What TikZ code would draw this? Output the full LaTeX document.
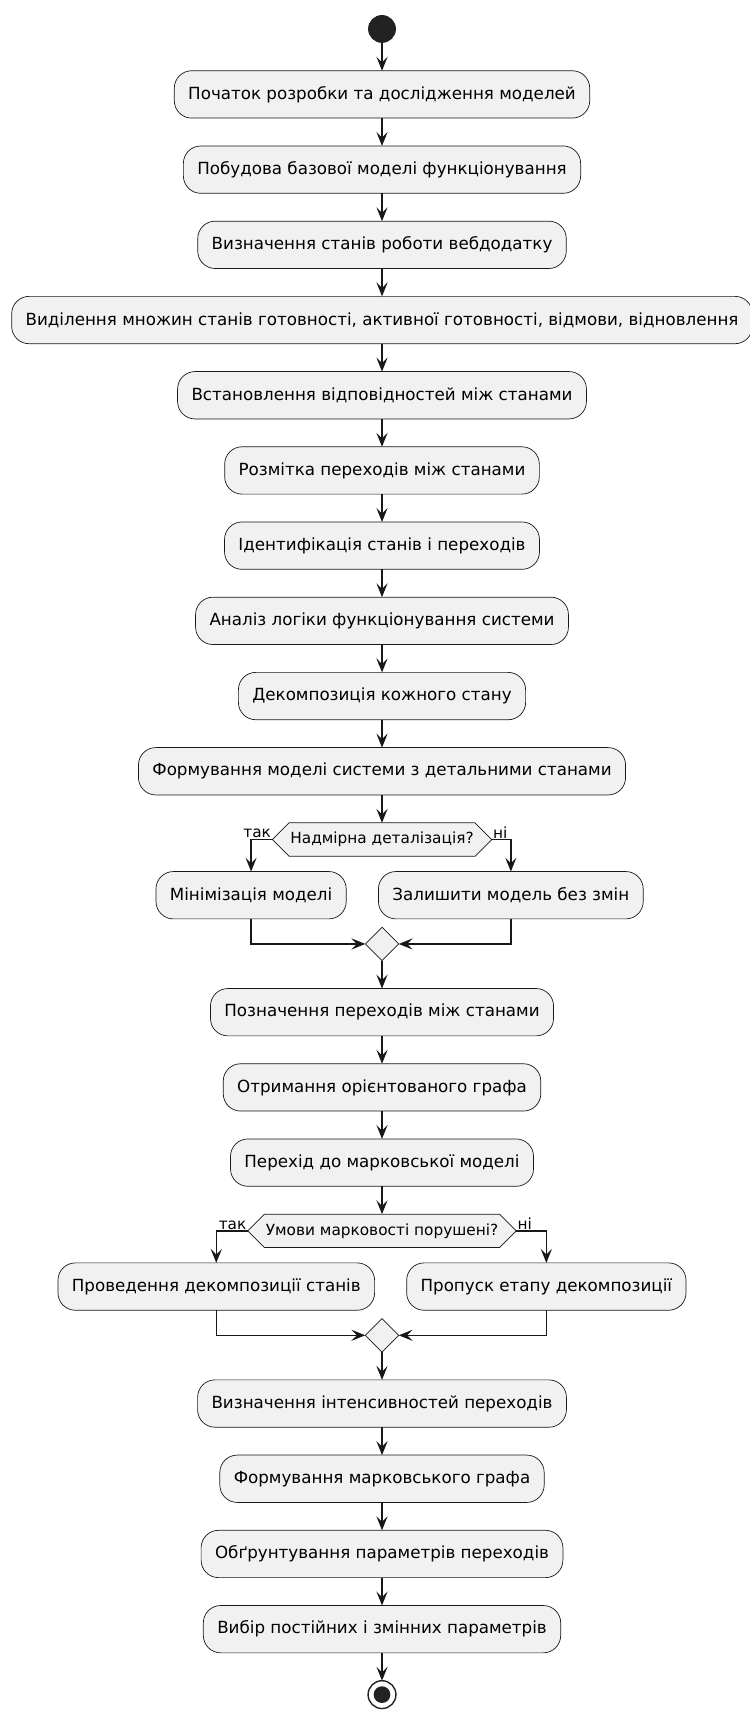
\documentclass[tikz,border=0pt]{standalone}
\usepackage{fontspec}
\setmainfont{DejaVu Sans}
\usetikzlibrary{arrows.meta,positioning,shapes.geometric,shapes.symbols}

\definecolor{actfill}{HTML}{F1F1F1}
\definecolor{actline}{HTML}{181818}
\definecolor{dotcol}{HTML}{222222}

\begin{document}
\begin{tikzpicture}[
    node distance=20pt,
    >={Stealth[length=10pt,width=8pt,inset=4pt]},
    every node/.style={font=\fontsize{12}{14}\selectfont, outer sep=0pt},
    box/.style={
        draw=actline,
        fill=actfill,
        line width=0.5pt,
        rounded corners=12.5pt,
        align=center,
        minimum height=34pt,
        inner xsep=10pt,
        inner ysep=0pt
    },
    cond/.style={
        draw=actline,
        fill=actfill,
        line width=0.5pt,
        signal,
        signal to=east and west,
        signal pointer angle=90,
        minimum height=24pt,
        inner xsep=1pt,
        inner ysep=0pt,
        font=\fontsize{11}{13}\selectfont
    },
    merge/.style={
        draw=actline,
        fill=actfill,
        line width=0.5pt,
        diamond,
        minimum width=24pt,
        minimum height=24pt,
        inner sep=0pt
    },
    startdot/.style={circle, fill=dotcol, minimum size=20pt, inner sep=0pt},
    enddot/.style={circle, draw=dotcol, fill=white, line width=1pt, minimum size=20pt, inner sep=0pt},
    lbl/.style={font=\fontsize{11}{13}\selectfont, inner sep=1pt},
    line/.style={->, line width=1pt, draw=actline}
]
\useasboundingbox (-274.3pt,-1209.2pt) rectangle (264.2pt,20.8pt);

% Start
\node[startdot] (start) at (0,0) {};

% Building the model
\node[box, below=of start] (begin) {Початок розробки та дослідження моделей};
\node[box, below=of begin] (basemod) {Побудова базової моделі функціонування};
\node[box, below=of basemod] (defstates) {Визначення станів роботи вебдодатку};
\node[box, below=of defstates] (sets)
{Виділення множин станів готовності, активної готовності, відмови, відновлення};
\node[box, below=of sets] (corresp) {Встановлення відповідностей між станами};
\node[box, below=of corresp] (markup) {Розмітка переходів між станами};
\node[box, below=of markup] (ident) {Ідентифікація станів і переходів};
\node[box, below=of ident] (logic) {Аналіз логіки функціонування системи};
\node[box, below=of logic] (decomp) {Декомпозиція кожного стану};
\node[box, below=of decomp] (formmod) {Формування моделі системи з детальними станами};

% Detail check
\node[cond, below=of formmod] (detail) {Надмірна деталізація?};
\node[lbl, anchor=south east] (yes1) at (detail.west) {так};
\node[lbl, anchor=south west] (no1) at (detail.east) {ні};
\node[box, below=11pt of detail, xshift=-94pt] (minim) {Мінімізація моделі};
\node[box, below=11pt of detail, xshift=92.5pt] (keep) {Залишити модель без змін};
\node[merge, below=51pt of detail] (merge1) {};

% Oriented graph
\node[box, below=of merge1] (notation) {Позначення переходів між станами};
\node[box, below=of notation] (orgraph) {Отримання орієнтованого графа};
\node[box, below=of orgraph] (markov) {Перехід до марковської моделі};

% Markov check
\node[cond, below=of markov] (markcond) {Умови марковості порушені?};
\node[lbl, anchor=south east] (yes2) at (markcond.west) {так};
\node[lbl, anchor=south west] (no2) at (markcond.east) {ні};
\node[box, below=11pt of markcond, xshift=-119pt] (dodecomp) {Проведення декомпозиції станів};
\node[box, below=11pt of markcond, xshift=118pt] (skipdecomp) {Пропуск етапу декомпозиції};
\node[merge, below=51pt of markcond] (merge2) {};

% Markov graph
\node[box, below=of merge2] (intens) {Визначення інтенсивностей переходів};
\node[box, below=of intens] (mgraph) {Формування марковського графа};
\node[box, below=of mgraph] (justify) {Обґрунтування параметрів переходів};
\node[box, below=of justify] (params) {Вибір постійних і змінних параметрів};

% End
\node[enddot, below=of params] (finish) {};
\fill[dotcol] (finish.center) circle (6pt);

% Arrows
\draw[line] (start) -- (begin);
\draw[line] (begin) -- (basemod);
\draw[line] (basemod) -- (defstates);
\draw[line] (defstates) -- (sets);
\draw[line] (sets) -- (corresp);
\draw[line] (corresp) -- (markup);
\draw[line] (markup) -- (ident);
\draw[line] (ident) -- (logic);
\draw[line] (logic) -- (decomp);
\draw[line] (decomp) -- (formmod);
\draw[line] (formmod) -- (detail);

\draw[line] (detail.west) -| (minim.north);
\draw[line] (detail.east) -| (keep.north);
\draw[line] (minim.south) |- (merge1.west);
\draw[line] (keep.south) |- (merge1.east);

\draw[line] (merge1) -- (notation);
\draw[line] (notation) -- (orgraph);
\draw[line] (orgraph) -- (markov);
\draw[line] (markov) -- (markcond);

\draw[line] (markcond.west) -| (dodecomp.north);
\draw[line] (markcond.east) -| (skipdecomp.north);
\draw[line] (dodecomp.south) |- (merge2.west);
\draw[line] (skipdecomp.south) |- (merge2.east);

\draw[line] (merge2) -- (intens);
\draw[line] (intens) -- (mgraph);
\draw[line] (mgraph) -- (justify);
\draw[line] (justify) -- (params);
\draw[line] (params) -- (finish);

\end{tikzpicture}
\end{document}
